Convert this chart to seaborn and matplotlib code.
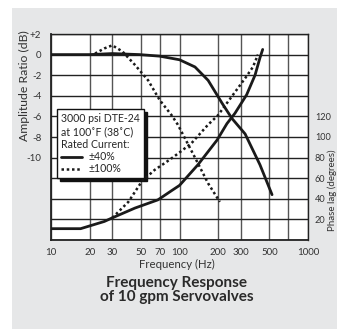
import numpy as np
import pandas as pd
import matplotlib
matplotlib.use("Agg")
import matplotlib.pyplot as plt
import seaborn as sns
from matplotlib.patches import Rectangle
from matplotlib.lines import Line2D

sns.set_style("white")
plt.rcParams['font.family'] = ['Lato', 'DejaVu Sans']

# ---- data ----
amp40_freq = [10, 20, 30, 49, 70, 100, 132, 167, 214, 256, 324, 423, 525]
amp40_db = [0.0, 0.0, 0.1, 0.0, -0.15, -0.5, -1.2, -2.5, -4.7, -6.2, -7.7, -10.7, -13.6]

amp100_freq = [22, 26, 30, 36, 45, 57, 70, 87, 97, 132, 167, 206]
amp100_db = [0.1, 0.6, 0.9, 0.3, -1.0, -2.5, -4.4, -5.9, -6.8, -10.0, -12.5, -14.3]

ph40_freq = [10, 17, 26, 30, 45, 68, 87, 100, 139, 196, 234, 270, 333, 387, 423, 444]
ph40_deg = [11, 11, 18, 21.5, 31, 39, 48, 53, 73, 97, 113, 123, 141, 160, 177, 185]

ph100_freq = [30, 40, 51, 64, 84, 100, 124, 167, 199, 261, 324, 373, 408]
ph100_deg = [21.5, 37, 57, 68, 78, 85, 94, 112, 121, 141, 157, 168, 180]

x_ticks = [10, 20, 30, 50, 70, 100, 200, 300, 500, 1000]
x_grid = [10, 20, 30, 50, 70, 100, 200, 300, 500, 700, 1000]
amp_ticks = [2, 0, -2, -4, -6, -8, -10]
amp_tick_labels = ["+2", "0", "-2", "-4", "-6", "-8", "-10"]
phase_ticks = [20, 40, 60, 80, 100, 120]

W, H = 337, 330
fig = plt.figure(figsize=(W / 100, H / 100), dpi=100, facecolor="white")
fig.patches.append(Rectangle((12 / W, 1 / H), 1 - 12 / W, (H - 9) / H,
                             transform=fig.transFigure, facecolor="#e6e7e8",
                             edgecolor="none", zorder=-10))

ax = fig.add_axes([51 / W, (H - 240) / H, (308 - 51) / W, (240 - 34) / H])
ax.set_facecolor("white")
ax.set_xscale("log")
ax.set_xlim(10, 1000)
ax.set_ylim(-18, 2)

# grid
for xv in x_grid:
    ax.axvline(xv, color="#555555", lw=1.0, zorder=1)
for yv in range(-18, 3, 2):
    ax.axhline(yv, color="#222222", lw=1.0, zorder=1)

df_a40 = pd.DataFrame({"f": amp40_freq, "v": amp40_db})
df_a100 = pd.DataFrame({"f": amp100_freq, "v": amp100_db})
sns.lineplot(data=df_a40, x="f", y="v", ax=ax, color="#1a1a1a", lw=2.0, zorder=3)
sns.lineplot(data=df_a100, x="f", y="v", ax=ax, color="#1a1a1a", lw=1.8,
             linestyle=(0, (1, 1.1)), zorder=3)

ax.set_xticks(x_ticks)
ax.set_xticklabels([str(t) for t in x_ticks])
ax.xaxis.set_minor_locator(matplotlib.ticker.NullLocator())
ax.set_yticks(amp_ticks)
ax.set_yticklabels(amp_tick_labels)
ax.tick_params(axis="both", length=0, labelsize=7, colors="#333333")
ax.tick_params(axis="x", pad=6)
ax.tick_params(axis="y", pad=7)
ax.set_xlabel("")
ax.set_ylabel("")
for s in ax.spines.values():
    s.set_color("#222222")
    s.set_linewidth(1.0)
ax.spines["left"].set_linewidth(1.3)
ax.spines["bottom"].set_linewidth(1.3)

ax2 = ax.twinx()
ax2.set_ylim(0, 200)
ax2.patch.set_visible(False)
df_p40 = pd.DataFrame({"f": ph40_freq, "v": ph40_deg})
df_p100 = pd.DataFrame({"f": ph100_freq, "v": ph100_deg})
sns.lineplot(data=df_p40, x="f", y="v", ax=ax2, color="#1a1a1a", lw=2.0, zorder=3)
sns.lineplot(data=df_p100, x="f", y="v", ax=ax2, color="#1a1a1a", lw=1.8,
             linestyle=(0, (1, 1.1)), zorder=3)
ax2.set_xlim(10, 1000)
ax2.set_yticks(phase_ticks)
ax2.set_yticklabels([str(t) for t in phase_ticks])
ax2.tick_params(axis="y", length=0, labelsize=6.6, colors="#333333", pad=5)
ax2.set_xlabel("")
ax2.set_ylabel("")
for s in ax2.spines.values():
    s.set_visible(False)

# legend
handles = [Line2D([], [], color="#1a1a1a", lw=2.0),
           Line2D([], [], color="#1a1a1a", lw=1.8, linestyle=(0, (1, 1.1)))]
leg = ax.legend(handles, ["\u00b140%", "\u00b1100%"],
                title="3000 psi DTE-24\nat 100\u02daF (38\u02daC)\nRated Current:",
                loc="upper left", bbox_to_anchor=(0.023, 0.636), borderaxespad=0,
                fontsize=7.6, title_fontsize=7.6, frameon=True, fancybox=False,
                shadow={"color": "#111111", "alpha": 1}, handlelength=2.0,
                handletextpad=0.6, borderpad=0.4, labelspacing=0.1,
                alignment="left")
leg.get_frame().set_edgecolor("#111111")
leg.get_frame().set_linewidth(1.0)
leg.get_frame().set_facecolor("white")
leg._legend_box.sep = 1
leg.set_zorder(5)

# texts
fig.text(24 / W, 1 - 86 / H, "Amplitude Ratio (dB)", rotation=90, ha="center",
         va="center", fontsize=8.8, color="#333333")
fig.text(327 / W, 1 - 190 / H, "Phase lag (degrees)", rotation=90, ha="left",
         va="center", fontsize=7, color="#333333")
fig.text(177 / W, 1 - 264 / H, "Frequency (Hz)", ha="center", va="center",
         fontsize=8.2, color="#333333")
fig.text(177 / W, 1 - 290 / H, "Frequency Response\nof 10 gpm Servovalves",
         ha="center", va="center", fontsize=11, fontweight="bold",
         color="#2a2a2a", linespacing=1.0)

fig.savefig("out.png", dpi=100, facecolor=fig.get_facecolor())
